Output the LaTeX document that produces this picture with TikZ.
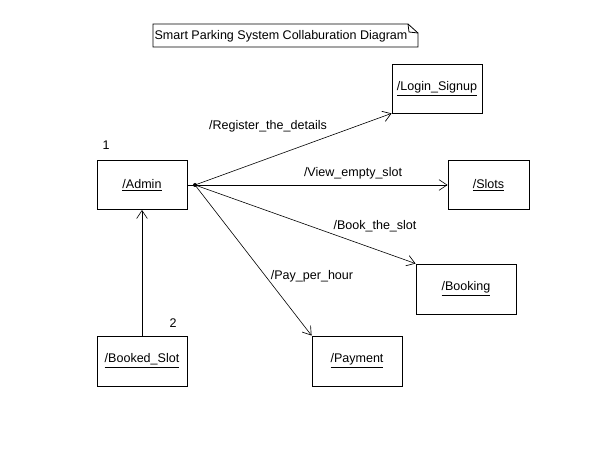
\documentclass[tikz,border=0pt]{standalone}
\usepackage{fontspec}
\setmainfont{Liberation Sans}
\usepackage{tikz}
\usetikzlibrary{arrows.meta}
\usetikzlibrary{calc}

\begin{document}
\begin{tikzpicture}[x=0.75pt,y=-0.75pt,line width=0.6pt,
    font=\fontsize{9.4pt}{11pt}\selectfont,
    obj/.style={draw,fill=white,inner sep=0pt},
    msg/.style={-{Straight Barb[length=6pt,width=8pt,line width=0.5pt]},line width=0.45pt}]
      \useasboundingbox (0,0) rectangle (590,466);

      % title note
      \node (title) at (281,36) {Smart Parking System Collaburation Diagram};
      \draw (153,24) -- (408,24) -- (418,33) -- (418,47) -- (153,47) -- cycle;
      \draw (408,24) -- (409,32) -- (418,33);

      % objects
      \node[obj,minimum width=67.5pt,minimum height=36.75pt] (login) at (437,88.5) {\underline{/Login\_Signup}};
      \node[obj,minimum width=67.5pt,minimum height=36.75pt] (admin) at (142,185) {\underline{/Admin}};
      \node[obj,minimum width=60.75pt,minimum height=36.75pt] (slots) at (488.5,185) {\underline{/Slots}};
      \node[obj,minimum width=75pt,minimum height=37.5pt] (booking) at (466,289) {\underline{/Booking}};
      \node[obj,minimum width=67.5pt,minimum height=37.5pt] (bookedslot) at (142,361) {\underline{/Booked\_Slot}};
      \node[obj,minimum width=67.5pt,minimum height=37.5pt] (payment) at (357,361) {\underline{/Payment}};

      \node at (106,145) {1};
      \node at (173,323) {2};

      % links
      \coordinate (src) at (195,185);
      \draw (admin.east) -- (src);
      \fill (src) circle (2);
      \draw[msg] (src) -- (login.south west);
      \draw[msg] (src) -- (slots.west);
      \draw[msg] (src) -- (booking.north west);
      \draw[msg] (src) -- (payment.north west);
      \draw[msg] (bookedslot.north) -- (admin.south);

      \node at (268,126) {/Register\_the\_details};
      \node at (353,173) {/View\_empty\_slot};
      \node at (375,226) {/Book\_the\_slot};
      \node at (312,276) {/Pay\_per\_hour};
    \end{tikzpicture}
\end{document}
